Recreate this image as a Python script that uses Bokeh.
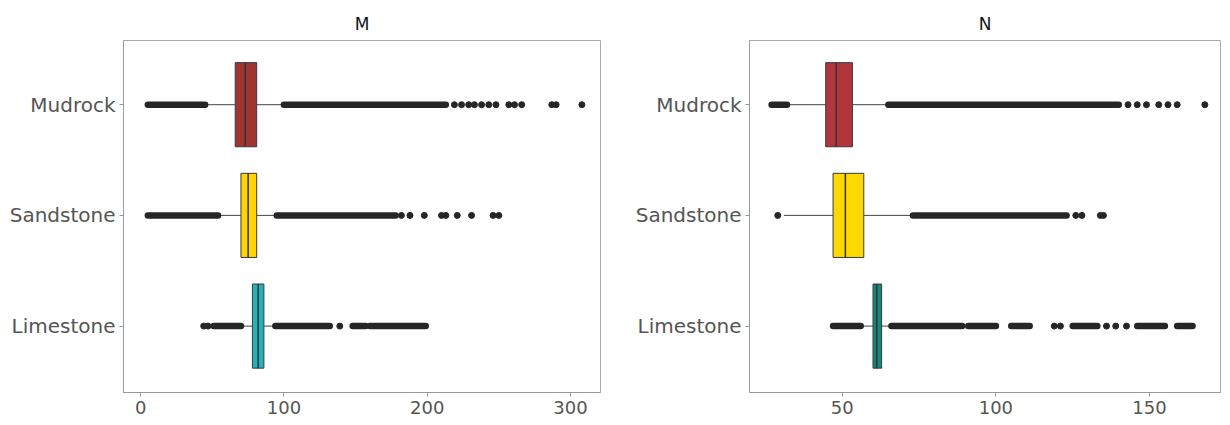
from bokeh.plotting import figure
from bokeh.layouts import row
from bokeh.models import Range1d, FixedTicker, ColumnDataSource
from bokeh.embed import file_html
from bokeh.resources import INLINE

categories = ["Mudrock", "Sandstone", "Limestone"]

# ---- Panel M ----
m_q1 = [66, 70, 78]
m_med = [73, 75, 82]
m_q3 = [81, 81, 86]
m_wlo = [45, 54, 70]
m_whi = [100, 95, 94]
m_band_cat = [0, 0, 1, 1, 2, 2, 2, 2]
m_band_lo = [5, 100, 5, 95, 51, 94, 148, 160]
m_band_hi = [45, 213, 54, 178, 70, 132, 157, 199]
m_pt_cat = [0] * 13 + [1] * 9 + [2] * 3
m_pt_val = [219, 224, 229, 233, 238, 243, 248, 257, 261, 266, 287, 290, 308,
            182, 188, 198, 210, 213, 221, 231, 246, 250,
            44, 47, 139]
m_colors = ["#9e3532", "#ffd400", "#22b3b8"]

# ---- Panel N ----
n_q1 = [44.6, 47, 60]
n_med = [48, 51, 61.2]
n_q3 = [53.3, 57, 62.8]
n_wlo = [32, 31, 56]
n_whi = [65, 73, 66]
n_band_cat = [0, 0, 1, 2, 2, 2, 2, 2, 2, 2]
n_band_lo = [27, 65, 73, 47, 66, 91, 105, 125, 146, 159]
n_band_hi = [32, 140, 123, 56, 89, 100, 111, 133, 155, 164]
n_pt_cat = [0] * 7 + [1] * 5 + [2] * 5
n_pt_val = [143, 146, 149, 153, 156, 159, 168,
            29, 126, 128, 134, 135,
            119, 121, 136, 139, 142.5]
n_colors = ["#b2343c", "#ffd800", "#138a7c"]

FONT = "DejaVu Sans"


def make_panel(title, q1, med, q3, wlo, whi, bcat, blo, bhi, pcat, pval,
               colors, xr, xticks, width, border_left, border_right):
    p = figure(width=width, height=425, output_backend="svg", toolbar_location=None,
               x_range=Range1d(*xr), y_range=Range1d(2.6, -0.58),
               min_border_left=border_left, min_border_right=border_right,
               min_border_top=40, min_border_bottom=33)
    p.title.text = title
    p.title.align = "center"
    p.title.vertical_align = "top"
    p.title.text_font = FONT
    p.title.text_font_size = "17px"
    p.title.text_font_style = "normal"
    p.title.text_color = "#111111"

    ycat = list(range(len(categories)))
    # whiskers
    p.segment(x0=wlo, y0=ycat, x1=q1, y1=ycat, line_color="#444444", line_width=1)
    p.segment(x0=q3, y0=ycat, x1=whi, y1=ycat, line_color="#444444", line_width=1)
    # dense outlier runs
    p.segment(x0=blo, y0=bcat, x1=bhi, y1=bcat, line_color="#262626",
              line_width=6.5, line_cap="round")
    # individual outliers
    p.scatter(x=pval, y=pcat, size=6, color="#262626")
    # boxes
    src = ColumnDataSource(dict(left=q1, right=q3, y=ycat, color=colors))
    p.hbar(y="y", left="left", right="right", height=0.76, fill_color="color",
           line_color="#3a3a3a", line_width=1, source=src)
    # medians
    p.segment(x0=med, y0=[c - 0.38 for c in ycat], x1=med, y1=[c + 0.38 for c in ycat],
              line_color="#333333", line_width=1.5)

    p.xgrid.visible = False
    p.ygrid.visible = False
    p.outline_line_color = "#aaaaaa"
    p.outline_line_width = 1

    p.xaxis.ticker = FixedTicker(ticks=xticks)
    p.yaxis.ticker = FixedTicker(ticks=ycat)
    p.yaxis.major_label_overrides = {i: c for i, c in enumerate(categories)}
    for ax in (p.xaxis[0], p.yaxis[0]):
        ax.axis_line_color = "#999999"
        ax.major_tick_line_color = "#999999"
        ax.major_tick_out = 4
        ax.major_tick_in = 0
        ax.minor_tick_line_color = None
        ax.major_label_text_font = FONT
        ax.major_label_text_color = "#555555"
    p.xaxis.major_label_text_font_size = "18px"
    p.yaxis.major_label_text_font_size = "20px"
    p.yaxis.major_label_standoff = 4
    p.xaxis.major_label_standoff = 4
    return p


p1 = make_panel("M", m_q1, m_med, m_q3, m_wlo, m_whi, m_band_cat, m_band_lo, m_band_hi,
                m_pt_cat, m_pt_val, m_colors, (-12, 321), [0, 100, 200, 300],
                615, 123, 15)
p2 = make_panel("N", n_q1, n_med, n_q3, n_wlo, n_whi, n_band_cat, n_band_lo, n_band_hi,
                n_pt_cat, n_pt_val, n_colors, (19.8, 173.1), [50, 100, 150],
                615, 134, 10)

layout = row(p1, p2)
open("out.html", "w").write(file_html(layout, INLINE))
